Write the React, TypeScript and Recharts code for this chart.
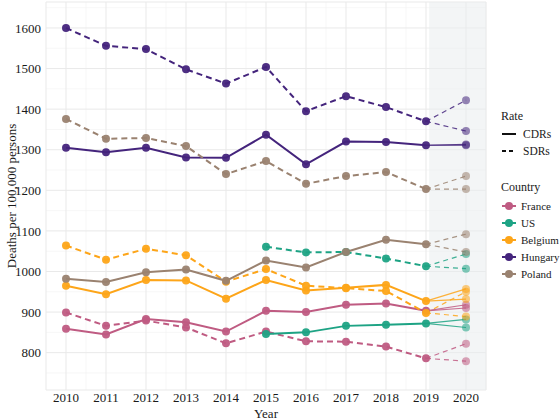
import React from 'react';
import { LineChart, Line, XAxis, YAxis, CartesianGrid, ReferenceArea } from 'recharts';

// Years with observed rates, 2020 shown separately as two branch values
const years = [2010, 2011, 2012, 2013, 2014, 2015, 2016, 2017, 2018, 2019];
const yTicks = [800, 900, 1000, 1100, 1200, 1300, 1400, 1500, 1600];

const franceCDR = [859, 845, 883, 875, 852, 903, 900, 918, 921, 903];
const franceSDR = [899, 866, 879, 862, 823, 852, 828, 827, 815, 786];
const usCDR = [null, null, null, null, null, 846, 850, 866, 869, 872];
const usSDR = [null, null, null, null, null, 1061, 1047, 1048, 1032, 1013];
const belgiumCDR = [965, 944, 979, 978, 933, 979, 953, 960, 967, 927];
const belgiumSDR = [1064, 1029, 1056, 1040, 975, 1006, 965, 959, 952, 898];
const hungaryCDR = [1305, 1294, 1305, 1281, 1280, 1337, 1264, 1320, 1319, 1311];
const hungarySDR = [1600, 1556, 1548, 1498, 1463, 1504, 1395, 1432, 1405, 1370];
const polandCDR = [982, 974, 998, 1005, 977, 1027, 1010, 1048, 1078, 1067];
const polandSDR = [1376, 1327, 1329, 1309, 1240, 1272, 1216, 1235, 1245, 1203];

// two 2020 values per series
const franceCDR2020 = [918, 910];
const franceSDR2020 = [822, 779];
const usCDR2020 = [882, 862];
const usSDR2020 = [1043, 1007];
const belgiumCDR2020 = [957, 932];
const belgiumSDR2020 = [950, 889];
const hungaryCDR2020 = [1313, 1311];
const hungarySDR2020 = [1422, 1346];
const polandCDR2020 = [1092, 1048];
const polandSDR2020 = [1235, 1203];

const countries = [
  { name: 'France', color: '#BF5B82', cdr: franceCDR, sdr: franceSDR, cdr20: franceCDR2020, sdr20: franceSDR2020, cdrBranchDash: false },
  { name: 'US', color: '#1DA384', cdr: usCDR, sdr: usSDR, cdr20: usCDR2020, sdr20: usSDR2020, cdrBranchDash: false },
  { name: 'Belgium', color: '#FDA519', cdr: belgiumCDR, sdr: belgiumSDR, cdr20: belgiumCDR2020, sdr20: belgiumSDR2020, cdrBranchDash: false },
  { name: 'Hungary', color: '#44247C', cdr: hungaryCDR, sdr: hungarySDR, cdr20: hungaryCDR2020, sdr20: hungarySDR2020, cdrBranchDash: false },
  { name: 'Poland', color: '#9A8270', cdr: polandCDR, sdr: polandSDR, cdr20: polandCDR2020, sdr20: polandSDR2020, cdrBranchDash: true },
];

const minorX = [2009.5, 2010.5, 2011.5, 2012.5, 2013.5, 2014.5, 2015.5, 2016.5, 2017.5, 2018.5, 2019.5, 2020.5];
const minorY = [750, 850, 950, 1050, 1150, 1250, 1350, 1450, 1550, 1650];

const FONT = "'Times New Roman', 'Liberation Serif', Tinos, 'DejaVu Serif', serif";

const series = (vals: (number | null)[]) =>
  years.map((y, i) => ({ year: y, value: vals[i] })).filter((d) => d.value != null);

const branch = (vals: (number | null)[], end: number) => [
  { year: 2019, value: vals[vals.length - 1] },
  { year: 2020, value: end },
];

const endDot = (color: string) => (props: any) => {
  const { cx, cy, payload, key } = props;
  if (payload.year !== 2020) return <g key={key} />;
  return <circle key={key} cx={cx} cy={cy} r={4} fill={color} fillOpacity={0.55} />;
};

const LegendText = ({ x, y, size, children }: { x: number; y: number; size: number; children: React.ReactNode }) => (
  <text x={x} y={y} fontSize={size} fontFamily={FONT} fill="#1a1a1a" style={{ fontFamily: FONT }}>
    {children}
  </text>
);

export default function App() {
  const lines: React.ReactNode[] = [];
  countries.forEach((c) => {
    (['cdr', 'sdr'] as const).forEach((rate) => {
      const vals = c[rate];
      const ends = rate === 'cdr' ? c.cdr20 : c.sdr20;
      const dashed = rate === 'sdr';
      const branchDash = dashed || (rate === 'cdr' && c.cdrBranchDash);
      ends.forEach((end, j) => {
        lines.push(
          <Line
            key={`${c.name}-${rate}-b${j}`}
            data={branch(vals, end)}
            dataKey="value"
            type="linear"
            stroke={c.color}
            strokeOpacity={0.85}
            strokeWidth={1.2}
            strokeDasharray={branchDash ? '5 4' : undefined}
            dot={endDot(c.color)}
            activeDot={false}
            isAnimationActive={false}
          />
        );
      });
      lines.push(
        <Line
          key={`${c.name}-${rate}`}
          data={series(vals)}
          dataKey="value"
          type="linear"
          stroke={c.color}
          strokeWidth={2}
          strokeDasharray={dashed ? '6 4' : undefined}
          dot={{ r: 4, fill: c.color, stroke: 'none', fillOpacity: 0.95 }}
          activeDot={false}
          isAnimationActive={false}
        />
      );
    });
  });

  return (
    <div style={{ position: 'absolute', left: 0, top: 0, width: 560, height: 420, background: '#fff', overflow: 'hidden' }}>
      <LineChart width={560} height={420} margin={{ top: 2, right: 74, bottom: 0, left: 0 }} style={{ fontFamily: FONT }}>
        <ReferenceArea x1={2019.08} x2={2020.5} y1={708} y2={1664} fill="#E9ECEF" fillOpacity={0.55} stroke="none" ifOverflow="hidden" />
        <CartesianGrid verticalValues={minorX} horizontalValues={minorY} stroke="#F1F1F1" strokeWidth={0.6} />
        <CartesianGrid stroke="#E9E9E9" strokeWidth={1} />
        <XAxis
          type="number"
          dataKey="year"
          domain={[2009.5, 2020.5]}
          ticks={[2010, 2011, 2012, 2013, 2014, 2015, 2016, 2017, 2018, 2019, 2020]}
          allowDataOverflow
          axisLine={false}
          tickLine={false}
          tickSize={0}
          tickMargin={3}
          height={30}
          tick={{ fontSize: 13, fill: '#1a1a1a', fontFamily: FONT }}
          label={() => (
            <text x={266} y={418} textAnchor="middle" fontSize={13} fill="#1a1a1a" fontFamily={FONT}>Year</text>
          )}
        />
        <YAxis
          type="number"
          domain={[708, 1664]}
          ticks={yTicks}
          allowDataOverflow
          axisLine={false}
          tickLine={false}
          tickSize={0}
          tickMargin={5}
          width={46}
          tick={{ fontSize: 13, fill: '#1a1a1a', fontFamily: FONT }}
          label={() => (
            <text x={16} y={196} textAnchor="middle" fontSize={13} fill="#1a1a1a" fontFamily={FONT} transform="rotate(-90 16 196)">
              Deaths per 100,000 persons
            </text>
          )}
        />
        {lines}
      </LineChart>

      {/* legends */}
      <svg style={{ position: 'absolute', left: 0, top: 0 }} width={560} height={420}>
        <LegendText x={501} y={120} size={12}>Rate</LegendText>
        <line x1={502} y1={134} x2={516} y2={134} stroke="#111" strokeWidth={2} />
        <line x1={502} y1={151} x2={516} y2={151} stroke="#111" strokeWidth={2} strokeDasharray="4 3" />
        <LegendText x={523} y={138} size={11.5}>CDRs</LegendText>
        <LegendText x={523} y={155} size={11.5}>SDRs</LegendText>

        <LegendText x={501} y={191} size={12}>Country</LegendText>
        {countries.map((c, i) => (
          <g key={c.name}>
            <line x1={502} y1={206 + i * 17} x2={516} y2={206 + i * 17} stroke={c.color} strokeWidth={2} />
            <circle cx={509} cy={206 + i * 17} r={4} fill={c.color} />
            <LegendText x={521} y={210 + i * 17} size={11}>{c.name}</LegendText>
          </g>
        ))}
      </svg>
    </div>
  );
}
